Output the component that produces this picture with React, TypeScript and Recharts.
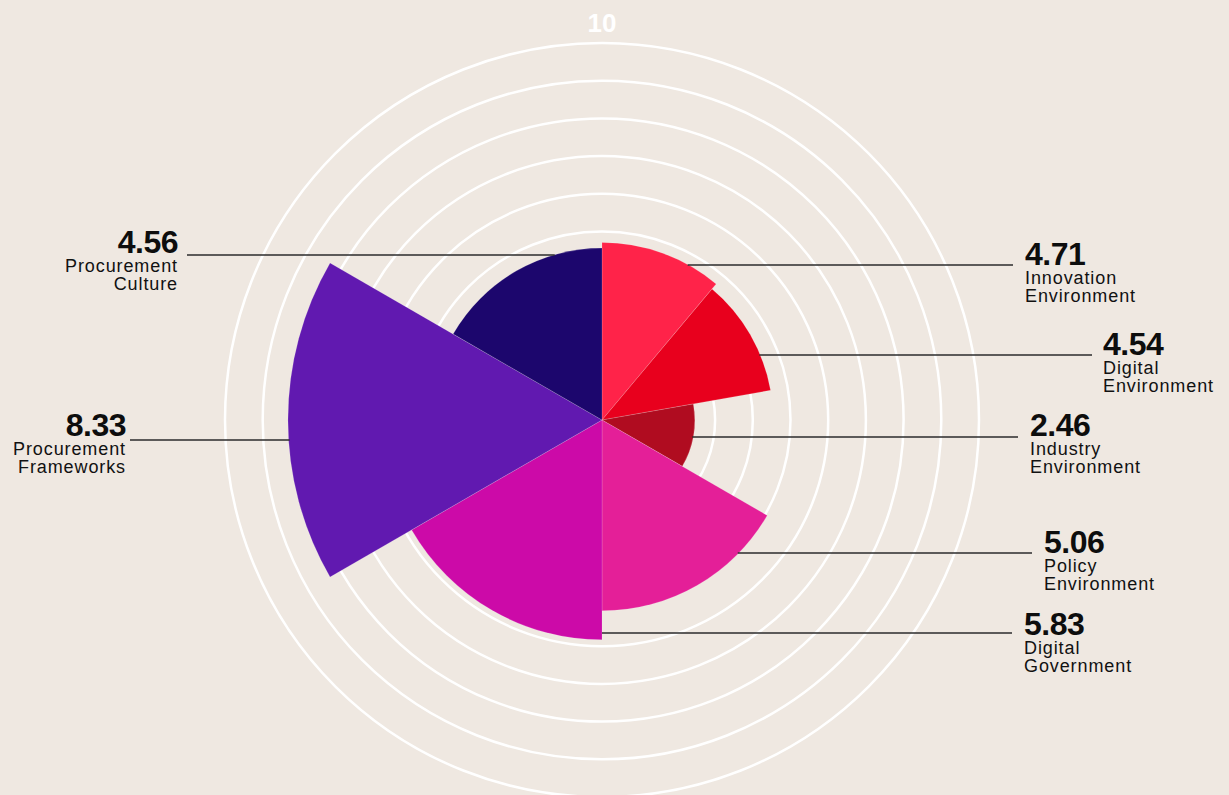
import React from 'react';
import { PieChart, Pie, Cell, PolarGrid, PolarRadiusAxis } from 'recharts';

// Categories clockwise from 12 o'clock
const categories = [
  'Innovation Environment',
  'Digital Environment',
  'Industry Environment',
  'Policy Environment',
  'Digital Government',
  'Procurement Frameworks',
  'Procurement Culture',
];
const scores = [4.71, 4.54, 2.46, 5.06, 5.83, 8.33, 4.56];
// angular width of each sector (degrees)
const spans = [40, 40, 40, 60, 60, 60, 60];
const scaleMax = 10;
const colors = ['#ff2349', '#e8001d', '#b00c20', '#e41f98', '#cc0aa8', '#6119b0', '#1c066d'];

// label placement, offsets from the chart centre
const labelLayout = [
  { side: 1, lineY: -155, lineEnd: 411, textX: 423, textDy: 0 },
  { side: 1, lineY: -65, lineEnd: 490, textX: 501, textDy: 0 },
  { side: 1, lineY: 17, lineEnd: 416, textX: 428, textDy: -1 },
  { side: 1, lineY: 133, lineEnd: 430, textX: 442, textDy: 0 },
  { side: 1, lineY: 213, lineEnd: 410, textX: 422, textDy: 2 },
  { side: -1, lineY: 20, lineEnd: -472, textX: -476, textDy: -4 },
  { side: -1, lineY: -165, lineEnd: -415, textX: -424, textDy: -2 },
];

const data = categories.map((name, i) => ({ name, score: scores[i], span: spans[i] }));

const FONT = '"Liberation Sans", Arial, Helvetica, sans-serif';

const inSector = (ang: number, a: number, b: number) => {
  const lo = Math.min(a, b);
  const hi = Math.max(a, b);
  let t = ang;
  while (t < lo) t += 360;
  while (t >= lo + 360) t -= 360;
  return t <= hi;
};

const renderLabel = (props: any) => {
  const { cx, cy, index, outerRadius, startAngle, endAngle } = props;
  const l = labelLayout[index];
  const dy = l.lineY;
  const y = cy + dy;
  // leader line starts where it leaves its own sector
  const r = (outerRadius * scores[index]) / scaleMax;
  let x1 = cx;
  if (r * r > dy * dy) {
    const dx = l.side * Math.sqrt(r * r - dy * dy);
    const ang = (Math.atan2(-dy, dx) * 180) / Math.PI;
    if (inSector(ang, startAngle, endAngle)) x1 = cx + dx - l.side;
  }
  const tx = cx + l.textX;
  const ty = y + l.textDy;
  const anchor = l.side > 0 ? 'start' : 'end';
  const [w1, w2] = categories[index].split(' ');
  const nameProps = {
    textAnchor: anchor,
    fontFamily: FONT,
    fontSize: 18,
    fill: '#111',
    letterSpacing: 0.9,
  } as any;
  return (
    <g key={`label-${index}`}>
      <line x1={x1} y1={y} x2={cx + l.lineEnd} y2={y} stroke="#2b2b2b" strokeWidth={1.5} />
      <text x={tx} y={ty} textAnchor={anchor} fontFamily={FONT} fontSize={32} fontWeight={700} fill="#0d0d0d" letterSpacing={-0.5}>
        {scores[index].toFixed(2)}
      </text>
      <text x={tx} y={ty + 19} {...nameProps}>
        {w1}
      </text>
      <text x={tx} y={ty + 37} {...nameProps}>
        {w2}
      </text>
    </g>
  );
};

const renderTick = (props: any) => {
  const { x, y, payload } = props;
  if (payload.value !== scaleMax) return <g />;
  return (
    <text x={x} y={y - 11} textAnchor="middle" fontFamily={FONT} fontSize={26} fontWeight={700} fill="#ffffff">
      {payload.value}
    </text>
  );
};

export default function App() {
  return (
    <div
      style={{
        position: 'absolute',
        left: 0,
        top: 0,
        width: 1229,
        height: 795,
        overflow: 'hidden',
        background: '#efe8e1',
        fontFamily: FONT,
      }}
    >
      <PieChart
        width={1229}
        height={800}
        margin={{ top: 43, bottom: 3, left: 225, right: 250 }}
        cx={602}
        cy={420}
        outerRadius="100%"
      >
        <PolarGrid gridType="circle" radialLines={false} stroke="#ffffff" strokeWidth={2.5} />
        <PolarRadiusAxis
          type="number"
          domain={[0, scaleMax]}
          tickCount={scaleMax + 1}
          allowDataOverflow
          angle={90}
          axisLine={false}
          tickLine={false}
          tick={renderTick}
        />
        {/* leader lines + labels */}
        <Pie
          data={data}
          dataKey="span"
          startAngle={90}
          endAngle={-270}
          outerRadius="100%"
          fill="none"
          stroke="none"
          label={renderLabel}
          labelLine={false}
          isAnimationActive={false}
        />
        {data.map((d, i) => (
          <Pie
            key={d.name}
            data={data}
            dataKey="span"
            startAngle={90}
            endAngle={-270}
            outerRadius={`${(d.score / scaleMax) * 100}%`}
            isAnimationActive={false}
          >
            {data.map((c, j) => (
              <Cell
                key={c.name}
                fill={j === i ? colors[j] : 'none'}
                stroke={j === i ? 'rgba(255,255,255,0.3)' : 'none'}
                strokeWidth={0.5}
              />
            ))}
          </Pie>
        ))}
      </PieChart>
    </div>
  );
}
